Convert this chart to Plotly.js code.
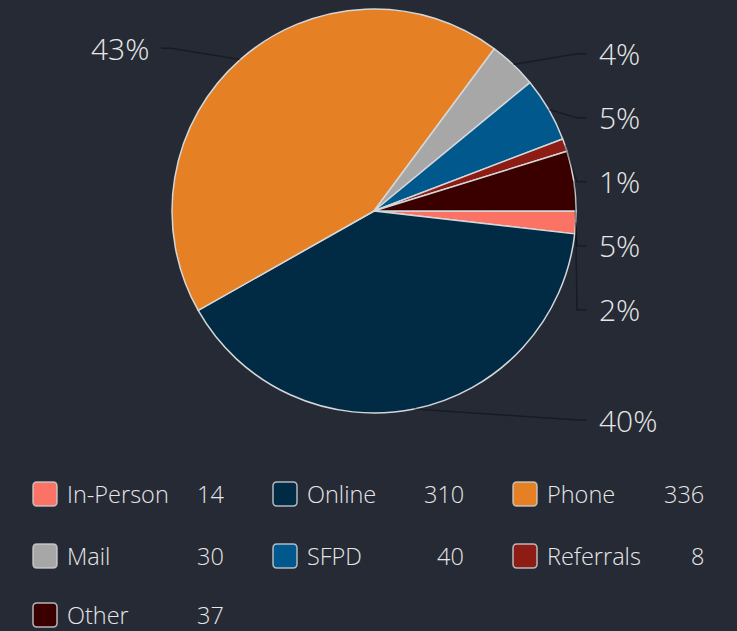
<!DOCTYPE html>
<html>
<head>
<meta charset="utf-8">
<script src="https://cdn.plot.ly/plotly-3.0.1.min.js"></script>
<style>
  html, body { margin: 0; padding: 0; background: #252a35; }
  #chart { width: 737px; height: 631px; }
</style>
</head>
<body>
<div id="chart"></div>
<script>
// ---- data ----
const categories = ['In-Person', 'Online', 'Phone', 'Mail', 'SFPD', 'Referrals', 'Other'];
const counts = [14, 310, 336, 30, 40, 8, 37];
const sliceColors = ['#fa7364', '#012b45', '#e68024', '#a7a7a7', '#01588c', '#8c1c14', '#3a0000'];

// ---- layout constants (pixels) ----
const W = 737, H = 631;
const BG = '#252a35';
const TEXT = '#e6e6e6';
const FONT = '"Open Sans", Lato, sans-serif';
const cx = 374, cy = 211, r = 202;        // pie centre and radius
const labelR = 217;                        // radius used for preferred label y
const labelGap = 64, labelMinY = 48, labelMaxY = 420;
const crookOffset = 1, tickLen = 10, textPad = 10;

const px = p => p / W;
const py = p => 1 - p / H;

const total = counts.reduce((a, b) => a + b, 0);

// slice mid angles (clockwise from 3 o'clock, screen coordinates)
let acc = 0;
const slices = counts.map((v, i) => {
  const a0 = acc / total * 2 * Math.PI;
  acc += v;
  const a1 = acc / total * 2 * Math.PI;
  const mid = (a0 + a1) / 2;
  return {
    i, mid,
    ex: cx + r * Math.cos(mid), ey: cy + r * Math.sin(mid),
    right: Math.cos(mid) >= 0,
    want: cy + labelR * Math.sin(mid),
    pct: Math.round(v / total * 100) + '%'
  };
});

function distribute(list) {
  list.sort((a, b) => a.want - b.want);
  for (let k = 0; k < list.length; k++) {
    let y = Math.max(list[k].want, labelMinY);
    if (k > 0) y = Math.max(y, list[k - 1].y + labelGap);
    list[k].y = y;
  }
  for (let k = list.length - 1; k >= 0; k--) {
    let y = Math.min(list[k].y, labelMaxY);
    if (k < list.length - 1) y = Math.min(y, list[k + 1].y - labelGap);
    list[k].y = y;
  }
}
distribute(slices.filter(s => s.right));
distribute(slices.filter(s => !s.right));

const shapes = [];
const annotations = [];

slices.forEach(s => {
  const sign = s.right ? 1 : -1;
  const crookX = cx + sign * (r + crookOffset);
  const endX = crookX + sign * tickLen;
  shapes.push({
    type: 'path', xref: 'paper', yref: 'paper',
    path: `M${px(s.ex)},${py(s.ey)} L${px(crookX)},${py(s.y)} L${px(endX)},${py(s.y)}`,
    line: { color: 'rgba(0,0,0,0.35)', width: 1.5 }
  });
  annotations.push({
    xref: 'paper', yref: 'paper',
    x: px(endX + sign * textPad), y: py(s.y),
    xanchor: s.right ? 'left' : 'right', yanchor: 'middle',
    text: s.pct, showarrow: false,
    font: { family: FONT, size: 30, weight: 300, color: TEXT }
  });
});

// ---- custom legend ----
const legCols = [33, 273, 513];
const legRows = [494, 556, 615];
const sq = 24, rad = 4;
categories.forEach((name, i) => {
  const col = i % 3, row = Math.floor(i / 3);
  const x0 = legCols[col], yc = legRows[row];
  const x1 = x0 + sq, y0 = yc - sq / 2, y1 = yc + sq / 2;
  const P = (x, y) => `${px(x)},${py(y)}`;
  const path = `M${P(x0 + rad, y0)} L${P(x1 - rad, y0)} Q${P(x1, y0)} ${P(x1, y0 + rad)} ` +
    `L${P(x1, y1 - rad)} Q${P(x1, y1)} ${P(x1 - rad, y1)} L${P(x0 + rad, y1)} ` +
    `Q${P(x0, y1)} ${P(x0, y1 - rad)} L${P(x0, y0 + rad)} Q${P(x0, y0)} ${P(x0 + rad, y0)} Z`;
  shapes.push({
    type: 'path', xref: 'paper', yref: 'paper', path,
    fillcolor: sliceColors[i],
    line: { color: 'rgba(205,208,212,0.85)', width: 1.5 }
  });
  annotations.push({
    xref: 'paper', yref: 'paper', x: px(x0 + 33), y: py(yc),
    xanchor: 'left', yanchor: 'middle', showarrow: false, text: name,
    height: 24, valign: 'middle', borderpad: 0,
    font: { family: FONT, size: 23.5, weight: 300, color: TEXT }
  });
  annotations.push({
    xref: 'paper', yref: 'paper', x: px(x0 + 192), y: py(yc),
    xanchor: 'right', yanchor: 'middle', showarrow: false, text: String(counts[i]),
    height: 24, valign: 'middle', borderpad: 0,
    font: { family: FONT, size: 23.5, weight: 300, color: TEXT }
  });
});

const trace = {
  type: 'pie',
  labels: categories,
  values: counts,
  sort: false,
  direction: 'clockwise',
  rotation: 90,
  textinfo: 'none',
  hoverinfo: 'label+value+percent',
  marker: { colors: sliceColors, line: { color: '#d4d7da', width: 1.5 } },
  domain: { x: [px(cx - r), px(cx + r)], y: [py(cy + r), py(cy - r)] },
  showlegend: false
};

const layout = {
  width: W, height: H,
  margin: { l: 0, r: 0, t: 0, b: 0 },
  paper_bgcolor: BG, plot_bgcolor: BG,
  showlegend: false,
  shapes, annotations,
  font: { family: FONT, color: TEXT }
};

Plotly.newPlot('chart', [trace], layout, { displayModeBar: false, staticPlot: true });
</script>
</body>
</html>
